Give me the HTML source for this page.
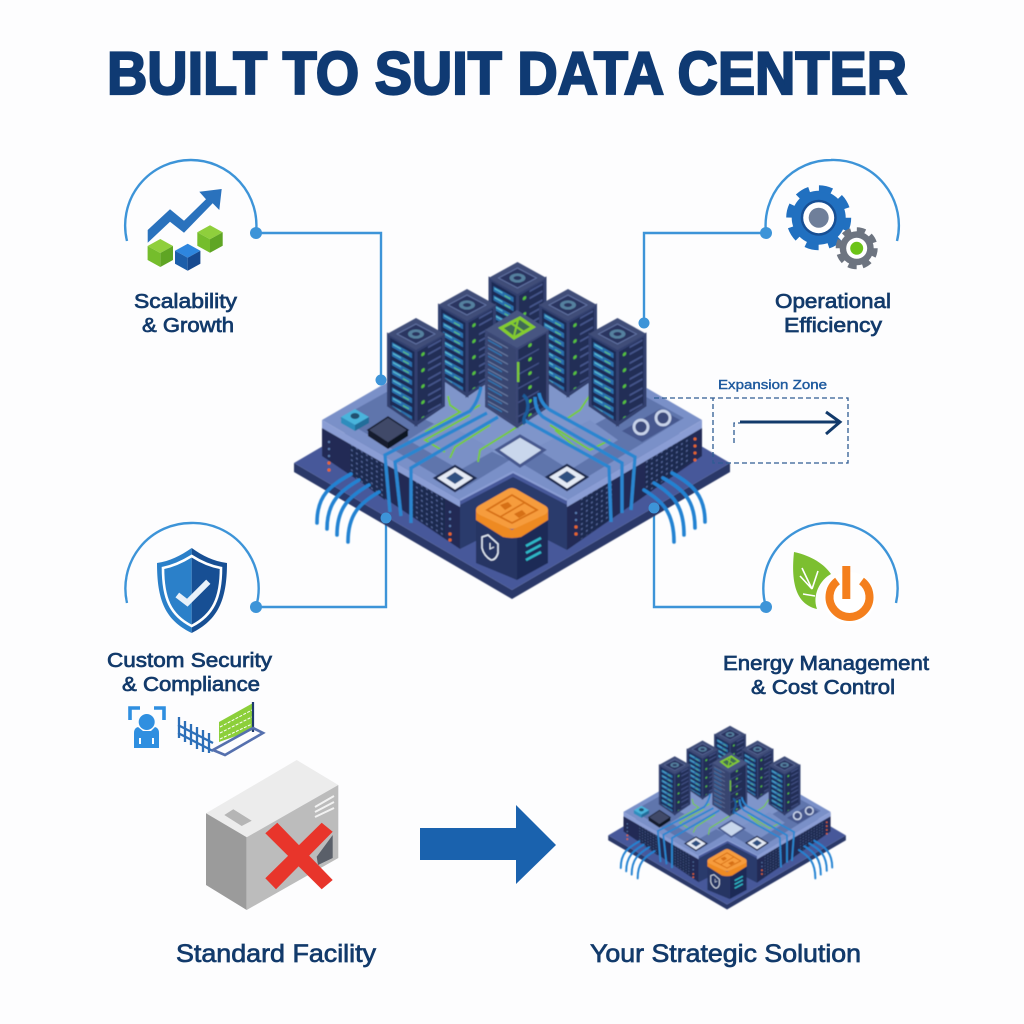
<!DOCTYPE html>
<html><head><meta charset="utf-8"><style>
html,body{margin:0;padding:0;background:#fdfdfe}
svg{display:block}
text{font-family:"Liberation Sans",sans-serif;fill:#123a6b;stroke:#123a6b;stroke-width:.7;paint-order:stroke}
</style></head><body>
<svg width="1024" height="1024" viewBox="0 0 1024 1024" xmlns="http://www.w3.org/2000/svg">
<defs>
<filter id="soft" x="-5%" y="-5%" width="110%" height="110%"><feGaussianBlur stdDeviation=".4"/></filter>
<pattern id="rl" patternUnits="userSpaceOnUse" width="29" height="9" patternTransform="skewY(29)">
<rect width="29" height="9" fill="#1d2b55"/><rect x="5" y="1.5" width="20" height="5" fill="#2a70ae"/><rect x="6" y="2.5" width="8" height="1.6" fill="#58b7cf"/><rect x="16" y="4" width="6" height="1.6" fill="#58b888"/></pattern>
<pattern id="rr" patternUnits="userSpaceOnUse" width="29" height="16" patternTransform="skewY(-29)">
<rect width="29" height="16" fill="#222d57"/><rect x="12" y="3" width="13" height="2" fill="#45558a"/><rect x="12" y="10" width="13" height="2" fill="#45558a"/><circle cx="7" cy="8" r="1.8" fill="#57c23d"/></pattern>
<pattern id="cl" patternUnits="userSpaceOnUse" width="32" height="8" patternTransform="skewY(29)">
<rect width="32" height="8" fill="#37446f"/><rect x="4" y="2" width="24" height="1.4" fill="#67789f"/><rect x="8" y="4.8" width="14" height="1.5" fill="#2f78b6"/></pattern>
<pattern id="cr" patternUnits="userSpaceOnUse" width="32" height="14" patternTransform="skewY(-29)">
<rect width="32" height="14" fill="#222d57"/><rect x="5" y="3" width="22" height="1.6" fill="#3f4f84"/><circle cx="18" cy="9" r="1.8" fill="#62c63c"/></pattern>
<pattern id="wl" patternUnits="userSpaceOnUse" width="5" height="5" patternTransform="skewY(33)">
<rect width="5" height="5" fill="#1f2950"/><rect x="1" y="1" width="1.7" height="1.7" fill="#55679b"/></pattern>
<pattern id="wr" patternUnits="userSpaceOnUse" width="5" height="5" patternTransform="skewY(-33)">
<rect width="5" height="5" fill="#1f2950"/><rect x="1" y="1" width="1.7" height="1.7" fill="#55679b"/></pattern>
<g id="rack">
<path d="M-29 16L0 32L0 108L-29 88Z" fill="url(#rl)"/>
<path d="M29 16L0 32L0 108L29 88Z" fill="url(#rr)"/>
<path d="M-27.5 17L0 33V106L-27.5 87.5Z M27.5 17L0 33V106L27.5 87.5Z" fill="none" stroke="#33406e" stroke-width="3"/>
<path d="M0 0L29 16L0 32L-29 16Z" fill="#404d78"/>
<path d="M0 6L19 16L0 26L-19 16Z" fill="#2a3661" stroke="#5f70a0" stroke-width="1"/>
<ellipse cx="0" cy="16" rx="8" ry="4.6" fill="#55809f"/><ellipse cx="0" cy="16" rx="4" ry="2" fill="#2a3661"/>
</g>
<g id="dc">
<!-- plate -->
<path d="M294 463L512 590L730 463L730 472L512 599L294 472Z" fill="#2b3868"/>
<path d="M294 463L512 335L730 463L512 590Z" fill="#46599a"/>
<!-- notch -->
<path d="M460 505L513 477L567 505L567 550L513 522L460 549Z" fill="#2a3a6c"/>
<!-- block walls -->
<path d="M322 422L460 503L460 549L322 456Z" fill="#222c55"/>
<path d="M702 422L567 503L567 550L702 456Z" fill="#222c55"/>
<path d="M350 443L385 463L385 500L350 474Z M412 478L445 498L445 538L412 516Z" fill="url(#wl)"/>
<path d="M690 430L645 457L645 494L690 462Z M612 478L580 498L580 540L612 518Z" fill="url(#wr)"/>
<!-- top surfaces -->
<path d="M322 420L512 310L702 420L567 500L513 472L460 500Z" fill="#7a90c8"/>
<path d="M322 420L460 500V507L322 428Z" fill="#8a9dd4"/>
<path d="M702 420L567 500V507L702 428Z" fill="#8a9dd4"/>
<path d="M460 500L513 472L567 500" fill="none" stroke="#8a9dd4" stroke-width="2"/>
<path d="M340 418L512 322L684 418L566 490L513 458L461 490Z" fill="#5f75ac"/>
<path d="M395 405L512 340L630 405L520 465Z" fill="#7f95ca"/>
<path d="M408 440L460 470L495 450L440 420Z M618 440L570 470L535 448L590 420Z" fill="#7a90c6"/>
<!-- surface items -->
<path d="M341 417L355 409L369 417L355 425Z" fill="#48b4dc"/><path d="M341 417L355 425L355 431L341 423Z" fill="#2f8dbd"/><path d="M369 417L355 425L355 431L369 423Z" fill="#236d9a"/>
<ellipse cx="355" cy="416" rx="4.5" ry="3" fill="#21506f"/>
<path d="M368 430L388 417L408 430L388 443Z" fill="#404a68" stroke="#171d30" stroke-width="1.5"/><path d="M368 430L388 443L388 449L368 436Z" fill="#161c2e"/><path d="M408 430L388 443L388 449L408 436Z" fill="#0f1424"/>
<path d="M622 431L660 409L680 420L642 442Z" fill="#46598f"/>
<circle cx="641" cy="427" r="7" fill="#3d4b7c" stroke="#c8d3ea" stroke-width="2.8"/><circle cx="663" cy="418" r="7" fill="#3d4b7c" stroke="#c8d3ea" stroke-width="2.8"/>
<path d="M497 450L520 436L544 450L520 466Z" fill="#c9d7ec" stroke="#46598f" stroke-width="3"/>
<path d="M435 478L455 466L475 478L455 491Z" fill="#e4eaf5" stroke="#1f2950" stroke-width="2.4"/><path d="M446 478L455 472L464 478L455 484Z" fill="#2e4f80"/>
<path d="M547 477L567 465L587 477L567 490Z" fill="#e4eaf5" stroke="#1f2950" stroke-width="2.4"/><path d="M558 477L567 471L576 477L567 483Z" fill="#2e4f80"/>
<!-- green traces -->
<g fill="none" stroke="#76c93a" stroke-width="2">
<path d="M448 396L450 405L460 412L425 432"/><path d="M470 415L425 440L445 452"/><path d="M490 425L455 447L450 458"/>
<path d="M550 425L590 450L610 440"/><path d="M525 422L480 450L478 462"/><path d="M590 395L580 410L565 420"/><path d="M555 430L585 455"/><path d="M480 405L440 428"/></g>
<!-- racks -->
<use href="#rack" x="517.5" y="262"/>
<use href="#rack" x="467" y="289"/>
<use href="#rack" x="568" y="289"/>
<use href="#rack" x="416" y="318"/>
<use href="#rack" x="617.5" y="318"/>
<path d="M485 330L517 348L517 428L485 407Z" fill="url(#cl)"/>
<path d="M549 330L517 348L517 428L549 407Z" fill="url(#cr)"/>
<path d="M486.5 331L517 349V426L486.5 406Z M547.5 331L517 349V426L547.5 406Z" fill="none" stroke="#3a4775" stroke-width="2.6"/>
<path d="M517 310L549 330L517 348L485 330Z" fill="#465581"/>
<path d="M501 328L520 318L533 327L514 338Z" fill="#3f6a55" stroke="#84cc2e" stroke-width="3.2"/>
<path d="M511 323L524 332M518 320L514 336" stroke="#84cc2e" stroke-width="2"/>
<rect x="517" y="362" width="2.4" height="20" fill="#7cc938"/>
<!-- bundled cables -->
<g fill="none" stroke="#2a86d0" stroke-width="3.4">
<path d="M481 387Q478 402 470 411L385 455L390 512"/><path d="M487 413L395 462L401 516"/><path d="M498 417L411 468L411 523"/>
<path d="M539 393Q541 404 550 410L635 457L631 510"/><path d="M535 397Q535 410 543 417L622 463L622 513"/><path d="M524 420L609 467L611 522"/>
<path d="M523 395Q530 400 527 412Q522 420 525 424" stroke="#1b5c9a"/></g>
<!-- whiskers -->
<g fill="none" stroke="#2382d2" stroke-width="3.6" stroke-linecap="round">
<path d="M351 474C330 486 317 495 317 523"/><path d="M359 480C340 491 327 502 327 529"/><path d="M369 485C350 496 337 507 337 535"/><path d="M379 492C360 503 348 514 348 542"/>
<path d="M672 473C692 484 705 495 705 522"/><path d="M663 478C683 489 695 500 695 528"/><path d="M654 483C672 494 684 505 684 535"/><path d="M644 490C662 501 674 512 674 542"/>
</g>
<!-- LEDs -->
<g fill="#e9682a"><circle cx="329" cy="463" r="1.6"/><circle cx="329" cy="470" r="1.6"/><circle cx="450" cy="534" r="1.6"/><circle cx="450" cy="540" r="1.6"/><circle cx="695" cy="439" r="1.5"/><circle cx="695" cy="446" r="1.5"/><circle cx="695" cy="453" r="1.5"/><circle cx="695" cy="460" r="1.5"/><circle cx="576" cy="534" r="1.6"/><circle cx="576" cy="527" r="1.6"/></g>
<g fill="#5a7ab0"><circle cx="329" cy="442" r="1.2"/><circle cx="329" cy="449" r="1.2"/><circle cx="329" cy="456" r="1.2"/><circle cx="450" cy="512" r="1.2"/><circle cx="450" cy="519" r="1.2"/><circle cx="450" cy="526" r="1.2"/><circle cx="576" cy="513" r="1.2"/><circle cx="576" cy="520" r="1.2"/></g>
<!-- cube -->
<path d="M476 515L517 535L517 580L476 563Z" fill="#263464"/>
<path d="M548 515L517 535L517 580L548 563Z" fill="#1f2b57"/>
<path d="M476 510L476 520L503 537Q512 539 521 537L548 520V510L512 530Z" fill="#ee8a22"/>
<path d="M476 510Q476 507 480 505L508 489Q512 487 516 489L544 505Q548 507 548 510Q548 513 544 515L516 528Q512 530 508 528L480 515Q476 513 476 510Z" fill="#f69c3e"/>
<path d="M487 510L512 495L537 510L512 523Z" fill="none" stroke="#d66f12" stroke-width="1.8"/>
<path d="M500 517L524 503" stroke="#d66f12" stroke-width="1.5"/>
<path d="M500 505L508 502L512 506L505 510Z M514 514L522 510L526 514L519 518Z" fill="#d66f12"/>
<path d="M482 537L488 535L498 544L498 553Q496 560 491 560Q484 556 482 548Z" fill="none" stroke="#e4ecf7" stroke-width="1.5"/>
<path d="M490 543V549L494 547" fill="none" stroke="#e4ecf7" stroke-width="1"/>
<path d="M526 546L541 538M526 553L541 545M526 560L541 552" stroke="#2fb8c8" stroke-width="2.6"/>
</g>
</defs>

<rect width="1024" height="1024" fill="#fdfdfe"/>

<text x="107" y="94" font-size="60" font-weight="700" textLength="800" lengthAdjust="spacingAndGlyphs" style="fill:#0f3a73;stroke:#0f3a73;stroke-width:2.2">BUILT TO SUIT DATA CENTER</text>

<!-- connectors & arcs -->
<g fill="none" stroke="#3d94d8" stroke-width="2.4">
<path d="M127 241A65.5 65.5 0 0 1 191 160A65.5 65.5 0 0 1 256 233"/><path d="M256 233H381V380"/>
<path d="M897 241A65.5 65.5 0 0 0 831 160A65.5 65.5 0 0 0 766 233"/><path d="M766 233H644V323"/>
<path d="M127 603A65.5 65.5 0 0 1 191 523A65.5 65.5 0 0 1 256 607"/><path d="M256 607H386V518"/>
<path d="M896 603A65.5 65.5 0 0 0 831 523A65.5 65.5 0 0 0 766 607"/><path d="M766 607H654V508"/>
</g>

<g filter="url(#soft)"><use href="#dc"/></g>

<g fill="#3d94d8"><circle cx="256" cy="233" r="6"/><circle cx="381" cy="380" r="5.5"/><circle cx="766" cy="233" r="6"/><circle cx="644" cy="323" r="5.5"/><circle cx="256" cy="607" r="6"/><circle cx="386" cy="518" r="5.5"/><circle cx="766" cy="607" r="6"/><circle cx="654" cy="508" r="5.5"/></g>

<!-- expansion zone -->
<path d="M654 398H848V463H713V398" fill="none" stroke="#2f5c93" stroke-width="1.3" stroke-dasharray="5 3"/>
<path d="M734 443V423H740" fill="none" stroke="#2f5c93" stroke-width="1.3" stroke-dasharray="5 3"/>
<path d="M740 422H839M826 412L840 422L826 434" fill="none" stroke="#123a6b" stroke-width="3"/>
<text x="718" y="389" font-size="13" textLength="109" lengthAdjust="spacingAndGlyphs" style="fill:#1e5a9e;stroke:#1e5a9e;stroke-width:.4">Expansion Zone</text>

<!-- icon: scalability -->
<path d="M147.7 230L170 209.3L184 220.7L206 199.3L199.3 191.7L221.7 189L219.3 210L212.7 203.3L184 232.7L170 221.7L147.7 242.7Z" fill="#2a72bd"/>
<path d="M160.3 239L173 246L160.3 253L147.6 246Z" fill="#8fcf3c"/><path d="M147.6 246L160.3 253V267L147.6 260Z" fill="#75bd2c"/><path d="M173 246L160.3 253V267L173 260Z" fill="#5fa524"/>
<path d="M187.7 243.7L200.4 250.7L187.7 257.7L175 250.7Z" fill="#2e86de"/><path d="M175 250.7L187.7 257.7V270.7L175 263.7Z" fill="#1c5eaa"/><path d="M200.4 250.7L187.7 257.7V270.7L200.4 263.7Z" fill="#174a90"/>
<path d="M210 225.3L222.7 232.3L210 239.3L197.3 232.3Z" fill="#8fcf3c"/><path d="M197.3 232.3L210 239.3V252.7L197.3 245.7Z" fill="#75bd2c"/><path d="M222.7 232.3L210 239.3V252.7L222.7 245.7Z" fill="#5fa524"/>

<!-- icon: gears -->
<circle cx="818.7" cy="217.7" r="27" fill="#2170c0"/>
<circle cx="818.7" cy="217.7" r="29" fill="none" stroke="#2170c0" stroke-width="7" stroke-dasharray="13 9.78"/>
<circle cx="818.7" cy="217.7" r="18" fill="#174f94"/><circle cx="818.7" cy="217.7" r="15.5" fill="#fff"/><circle cx="818.7" cy="217.7" r="10" fill="#6f7f9a"/>
<circle cx="856.7" cy="248.3" r="17" fill="#6d7480"/>
<circle cx="856.7" cy="248.3" r="18.5" fill="none" stroke="#6d7480" stroke-width="5" stroke-dasharray="8.5 6.03"/>
<circle cx="856.7" cy="248.3" r="10.5" fill="#fff"/><circle cx="856.7" cy="248.3" r="6.5" fill="#6cc417"/>

<!-- icon: shield -->
<path d="M191.7 548C180 556 170 561 157 563C157 600 165 620 191.7 633Z" fill="#2b80c9"/>
<path d="M191.7 548C203 556 213 561 227 563C227 600 218 620 191.7 633Z" fill="#174f94"/>
<path d="M191.7 556C182 562 173 566 163 568C163 598 170 615 191.7 626C213 615 221 598 221 568C210 566 201 562 191.7 556Z" fill="none" stroke="#fff" stroke-width="2.6"/>
<path d="M177.3 595L187.3 602.7L208.3 581.7" fill="none" stroke="#e8f1fa" stroke-width="6"/>

<!-- icon: leaf power -->
<path d="M794 552C812 556 824 564 831 574C820 580 812 595 817 609C800 605 790 590 794 552Z" fill="#7cbf30"/>
<path d="M802 568L812 589M812 589L800 576M812 589L818 571M815 596L803 594" stroke="#fff" stroke-width="1.6" fill="none"/>
<circle cx="849.5" cy="598" r="26" fill="#fff" fill-opacity=".9"/>
<path d="M837.5 581A20 20 0 1 0 861.5 581" fill="none" stroke="#f47f1d" stroke-width="8"/>
<rect x="842.3" y="566" width="8" height="33" fill="#f47f1d"/>

<!-- icon: face scan & fence -->
<g fill="none" stroke="#2f8fe0" stroke-width="3.6"><path d="M130 720V708H140M154 708H164V720"/></g>
<circle cx="146.7" cy="722" r="8" fill="#2f8fe0"/>
<path d="M134 733Q134 728 138 727L143 731H151L155 727Q159 728 159 733V748H134Z" fill="#2f8fe0"/>
<rect x="139" y="738" width="2" height="6" fill="#fff"/><rect x="152" y="738" width="2" height="6" fill="#fff"/>
<g stroke="#2c6fb8" stroke-width="2.3" fill="none"><path d="M179 717V738M185 721V742M191 724V745M197 727V749M203 730V752M209 733V753M178 725L213 743M178 733L213 751"/></g>
<path d="M219 722L253 703V730L219 742Z" fill="#8ccf3a"/>
<g stroke="#fff" stroke-width="1" stroke-dasharray="3 1.4"><path d="M220 727L252 710M220 733L252 717M220 739L252 724"/></g>
<path d="M253 702V732" stroke="#1f3a6e" stroke-width="2.2"/>
<path d="M213 750L225 755L263 733L253 728Z" fill="none" stroke="#5570ae" stroke-width="2.6"/>

<!-- standard facility -->
<path d="M296.7 760L338.3 785L246.7 837.3L206 813.3Z" fill="#ececec"/>
<path d="M206 813.3L246.7 837.3V910L206 885Z" fill="#9b9b9b"/>
<path d="M338.3 785L246.7 837.3V910L338.3 858Z" fill="#bcbcbc"/>
<path d="M224.3 815L233.3 809.3L251.7 820.7L241.7 826Z" fill="#b5b5b5"/>
<path d="M315 807L334 796M315 812L334 802M315 817L334 808" stroke="#f2f2f2" stroke-width="2"/>
<path d="M316.7 856.7L332.7 835V858L318 865Z" fill="#5a5f69"/>
<path d="M277.3 822.7L332.7 880L321.7 889.3L265.3 833.3Z" fill="#e8352b"/>
<path d="M321.7 822.7L332.7 831.7L276 889.3L265.3 878.3Z" fill="#e8352b"/>

<!-- big arrow -->
<path d="M420 828H516V805L556 845L516 884V860H420Z" fill="#1a62ae"/>

<!-- small data center -->
<g filter="url(#soft)"><use href="#dc" transform="translate(448 583) scale(.545)"/></g>

<!-- labels -->
<g font-size="20">
<text x="134" y="308" textLength="103" lengthAdjust="spacingAndGlyphs">Scalability</text>
<text x="142" y="332" textLength="92" lengthAdjust="spacingAndGlyphs">&amp; Growth</text>
<text x="775" y="308" textLength="116" lengthAdjust="spacingAndGlyphs">Operational</text>
<text x="784" y="332" textLength="98" lengthAdjust="spacingAndGlyphs">Efficiency</text>
<text x="107" y="667" textLength="165" lengthAdjust="spacingAndGlyphs">Custom Security</text>
<text x="122" y="691" textLength="138" lengthAdjust="spacingAndGlyphs">&amp; Compliance</text>
<text x="723" y="670" textLength="206" lengthAdjust="spacingAndGlyphs">Energy Management</text>
<text x="751" y="694" textLength="144" lengthAdjust="spacingAndGlyphs">&amp; Cost Control</text>
</g>
<g font-size="25">
<text x="176" y="962" textLength="200" lengthAdjust="spacingAndGlyphs">Standard Facility</text>
<text x="590" y="962" textLength="271" lengthAdjust="spacingAndGlyphs">Your Strategic Solution</text>
</g>
</svg>
</body></html>
